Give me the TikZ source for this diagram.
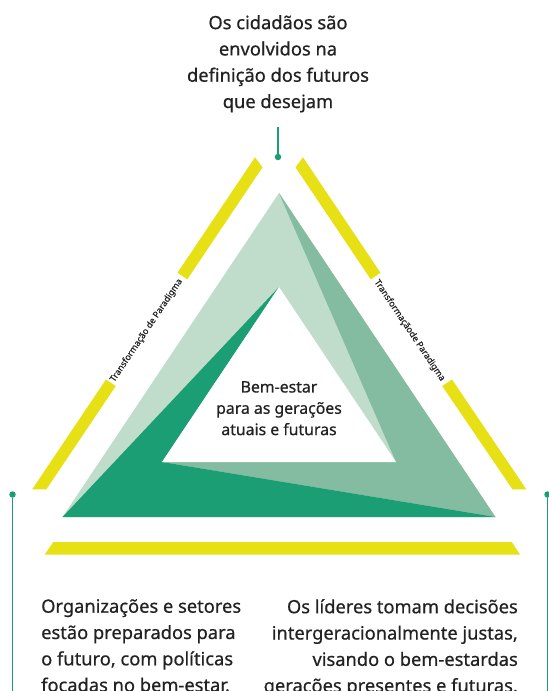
\documentclass[tikz,border=0pt]{standalone}
\usepackage{fontspec}
\setmainfont{Noto Sans}[Ligatures=NoCommon, FakeBold=0.6]
\definecolor{lightg}{HTML}{C0DCCB}
\definecolor{midg}{HTML}{84BCA2}
\definecolor{darkg}{HTML}{1B9E73}
\definecolor{ybar}{HTML}{E6E015}
\definecolor{txt}{HTML}{222222}
\tikzset{
  bigtext/.style={inner sep=0pt, text=txt, font=\fontsize{18.3}{26.3}\selectfont},
  midtext/.style={inner sep=0pt, text=txt, font=\fontsize{15.8}{21.3}\selectfont, align=center},
  bandlabel/.style={inner sep=0pt, text=txt, font=\fontsize{8.8}{10}\selectfont},
  bandbar/.style={fill=ybar},
  conn/.style={draw=darkg, line width=1.2pt},
  gdot/.style={circle, fill=darkg, inner sep=0pt, minimum size=6.5pt},
}
\begin{document}
\begin{tikzpicture}[x=1pt,y=-1pt]
\useasboundingbox (0,0) rectangle (549,691);
% triangle corners
\coordinate (A) at (279,193);
\coordinate (B) at (62.5,517);
\coordinate (C) at (495.5,517);
\coordinate (a) at (279,287);
\coordinate (b) at (162,462);
\coordinate (c) at (396,462);
% shaded pinwheel triangle
\fill[lightg] (A) -- (B) -- (C) -- cycle;
\fill[midg] (A) -- (C) -- (b) -- (c) -- cycle;
\fill[darkg] (a) -- (B) -- (C) -- (b) -- cycle;
\fill[white] (a) -- (b) -- (c) -- cycle;
% yellow frame pieces
\fill[bandbar] (255,157.3) -- (262.5,167.3) -- (187.3,279.3) -- (177.5,272.75) -- cycle;
\fill[bandbar] (106,379.45) -- (115.8,386) -- (46.4,489.3) -- (32.2,489.3) -- cycle;
\fill[bandbar] (303,157.3) -- (295.5,167.3) -- (370.7,279.3) -- (380.5,272.75) -- cycle;
\fill[bandbar] (452,379.45) -- (442.2,386) -- (512.5,489.3) -- (526.3,489.3) -- cycle;
\fill[bandbar] (53.3,542) -- (511.7,542) -- (520,554.5) -- (44.8,554.5) -- cycle;
% band labels
\node[bandlabel, rotate=56.1] (labL) at (146.5,330.5) {Transformação de Paradigma};
\node[bandlabel, rotate=-56.1] (labR) at (409.5,330.5) {Transformaçãode Paradigma};
% connectors
\node[gdot] (dT) at (278,157) {};
\coordinate (eT) at (278,127);
\draw[conn] (eT) -- (dT);
\node[gdot] (dL) at (12.5,494.5) {};
\coordinate (eL) at (12.5,691);
\draw[conn] (dL) -- (eL);
\node[gdot] (dR) at (547.5,494.5) {};
\coordinate (eR) at (547.5,691);
\draw[conn] (dR) -- (eR);
% texts
\node[bigtext, align=center, anchor=north] (top) at (278,15)
  {Os cidadãos são\\envolvidos na\\definição dos futuros\\que desejam};
\node[midtext, anchor=north] (mid) at (279,381)
  {Bem-estar\\para as gerações\\atuais e futuras};
\node[bigtext, align=left, anchor=north west] (bl) at (41,599)
  {Organizações e setores\\estão preparados para\\o futuro, com políticas\\focadas no bem-estar.};
\node[bigtext, align=right, anchor=north east] (br) at (518,599)
  {Os líderes tomam decisões\\intergeracionalmente justas,\\visando o bem-estardas\\gerações presentes e futuras.};
\end{tikzpicture}
\end{document}
